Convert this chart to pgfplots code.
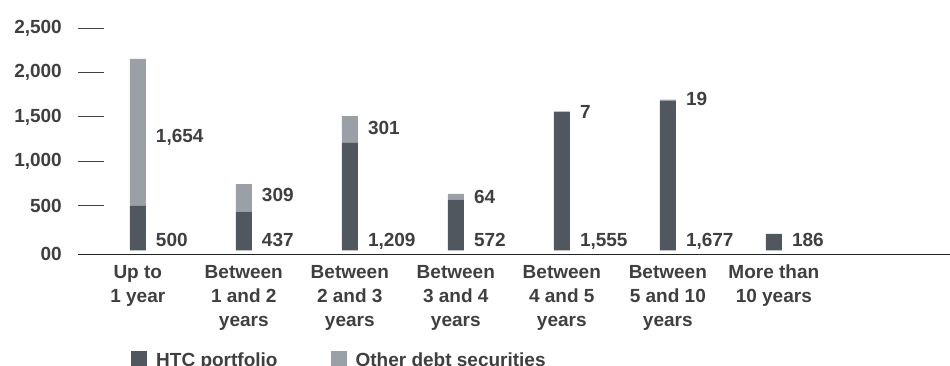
\documentclass[border=0pt]{standalone}
\usepackage{fontspec}
\setmainfont{Liberation Sans}
\usepackage{pgfplots}
\pgfplotsset{compat=1.18}
\definecolor{htc}{HTML}{50575E}
\definecolor{oth}{HTML}{9BA0A6}
\definecolor{txt}{HTML}{3F3F3F}
\definecolor{axc}{HTML}{222222}
\begin{document}
\fontsize{19}{24}\selectfont\bfseries
\begin{tikzpicture}[every node/.append style={text=txt},
  lbl/.style={anchor=west, inner sep=0pt, text height=13.6pt, text depth=0pt, xshift=18pt, text=txt}]
\begin{axis}[
  name=ax,
  at={(0pt,0pt)}, anchor=south west,
  scale only axis,
  width=872pt, height=226pt,
  xmin=-0.564, xmax=7.662,
  ymin=-40, ymax=2500,
  ybar stacked, bar width=16pt,
  axis x line=bottom, axis y line=left,
  x axis line style={-, draw=axc, line width=1pt},
  y axis line style={draw=none},
  xtick={0,1,2,3,4,5,6},
  xticklabels={{Up to\\1 year},{Between\\1 and 2\\years},{Between\\2 and 3\\years},{Between\\3 and 4\\years},{Between\\4 and 5\\years},{Between\\5 and 10\\years},{More than\\10 years}},
  xtick style={draw=none},
  xticklabel style={align=center, inner sep=0pt, anchor=north, yshift=-11pt},
  ytick={500,1000,1500,2000,2500},
  yticklabels={500,{1,000},{1,500},{2,000},{2,500}},
  extra y ticks={-40},
  extra y tick labels={00},
  extra y tick style={major tick length=0pt},
  tick align=inside,
  major tick length=26pt,
  ytick style={draw=black!75, line width=1pt},
  yticklabel style={inner sep=0pt, anchor=east, xshift=-16pt},
  clip=false,
  legend columns=2,
  legend style={draw=none, fill=none, inner sep=0pt,
    at={(0.0608,-0.4292)}, anchor=north west,
    nodes={inner sep=0pt, text depth=0pt, text=txt},
    column sep=0pt,
    /tikz/every odd column/.append style={column sep=9pt},
    /tikz/every even column/.append style={column sep=53pt}},
  legend image code/.code={\fill[#1] (0pt,-8pt) rectangle (16pt,8pt);},
]
\addplot[fill=htc, draw=none] coordinates {(0,500) (1,437) (2,1209) (3,572) (4,1555) (5,1677) (6,186)};
\addlegendentry{HTC portfolio}
\addplot[fill=oth, draw=none] coordinates {(0,1654) (1,309) (2,301) (3,64) (4,7) (5,19) (6,0)};
\addlegendentry{Other debt securities}
\node[lbl] at (axis cs:0,121) {500};
\node[lbl] at (axis cs:1,121) {437};
\node[lbl] at (axis cs:2,121) {1,209};
\node[lbl] at (axis cs:3,121) {572};
\node[lbl] at (axis cs:4,121) {1,555};
\node[lbl] at (axis cs:5,121) {1,677};
\node[lbl] at (axis cs:6,121) {186};
\node[lbl] at (axis cs:0,1292) {1,654};
\node[lbl] at (axis cs:1,621) {309};
\node[lbl] at (axis cs:2,1376) {301};
\node[lbl] at (axis cs:3,604) {64};
\node[lbl] at (axis cs:4,1554) {7};
\node[lbl] at (axis cs:5,1700) {19};
\end{axis}
\pgfresetboundingbox
\useasboundingbox ([shift={(-78pt,-111pt)}]ax.south west) rectangle ([shift={(0pt,28pt)}]ax.north east);
\end{tikzpicture}
\end{document}
